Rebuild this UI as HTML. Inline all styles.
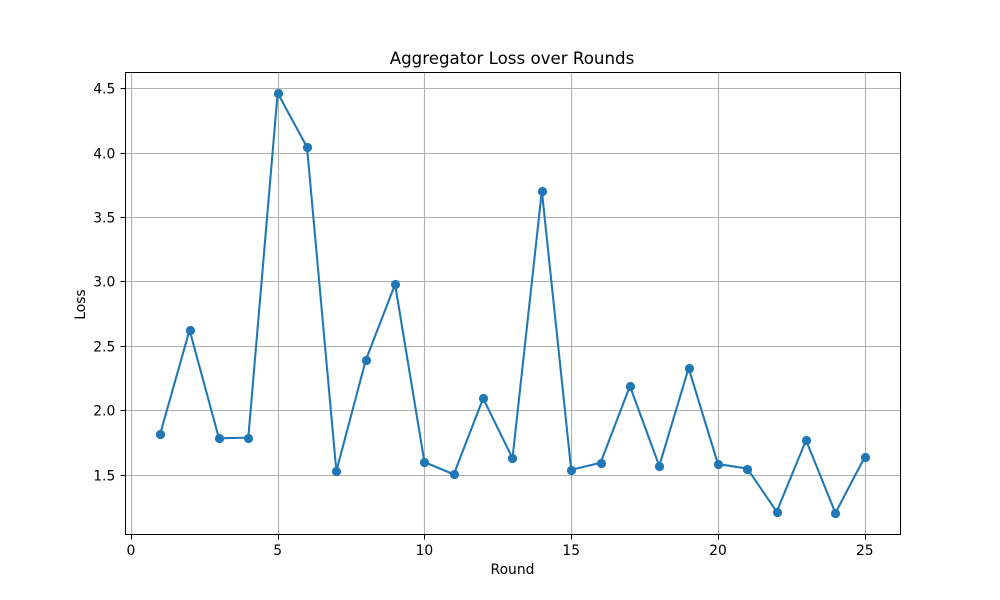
<!DOCTYPE html>
<html lang="en">
<head>
<meta charset="utf-8">
<title>Aggregator Loss over Rounds</title>
<style>
html,body{margin:0;padding:0;background:#fff;}
svg{display:block;font-family:"DejaVu Sans",sans-serif;}
text{fill:#000;}
</style>
</head>
<body>
<svg id="chart" width="1000" height="600" viewBox="0 0 1000 600" xmlns="http://www.w3.org/2000/svg">
<rect x="0" y="0" width="1000" height="600" fill="#ffffff"/>
<g id="grid"></g>
<g id="ticks"></g>
<g id="series"></g>
<rect x="125.5" y="72.5" width="775" height="462" fill="none" stroke="#000" stroke-width="1"/>
<text x="512" y="64" font-size="16.67" text-anchor="middle">Aggregator Loss over Rounds</text>
<text x="512.5" y="574" font-size="13.89" text-anchor="middle">Round</text>
<text x="85" y="304.5" font-size="13.89" text-anchor="middle" transform="rotate(-90 85 304.5)">Loss</text>
</svg>
<script>
const rounds = [1,2,3,4,5,6,7,8,9,10,11,12,13,14,15,16,17,18,19,20,21,22,23,24,25];
const lossValues = [1.82,2.625,1.785,1.79,4.465,4.045,1.53,2.39,2.98,1.6,1.505,2.095,1.63,3.705,1.54,1.595,2.19,1.57,2.33,1.585,1.55,1.215,1.77,1.205,1.64];
const xTickValues = [0,5,10,15,20,25];
const yTickValues = [1.5,2.0,2.5,3.0,3.5,4.0,4.5];
const yTickLabels = ["1.5","2.0","2.5","3.0","3.5","4.0","4.5"];

const NS = "http://www.w3.org/2000/svg";
const plot = {left:125.5, right:900.5, top:72.5, bottom:534.5};
function xScale(v){ return 130.87 + v * 29.356; }
function yScale(v){ return 475 - (v - 1.5) * 128.83; }
function snapX(p){ return Math.floor(p + 0.49) + 0.5; }
function snapY(p){ return Math.floor(p + 0.2) + 0.5; }
function snapMarker(p){ return Math.floor(p + 0.5) + 0.5; }
function make(tag, attrs, parent){
  const el = document.createElementNS(NS, tag);
  for (const k in attrs) el.setAttribute(k, attrs[k]);
  parent.appendChild(el);
  return el;
}
const gridG = document.getElementById("grid");
const ticksG = document.getElementById("ticks");
const seriesG = document.getElementById("series");

xTickValues.forEach(function(v){
  const x = snapX(xScale(v));
  const g = make("line",{x1:x,x2:x,y1:plot.top,y2:plot.bottom,stroke:"#b0b0b0","stroke-width":1.11},gridG);
  
  
  const t = make("line",{x1:x,x2:x,y1:plot.bottom,y2:plot.bottom+5,stroke:"#000","stroke-width":1},ticksG);
  
  
  const l = make("text",{x:xScale(v),y:555,"font-size":13.89,"text-anchor":"middle"},ticksG);
  l.textContent = String(v);
  
  
});

yTickValues.forEach(function(v,i){
  const y = snapY(yScale(v));
  const g = make("line",{x1:plot.left,x2:plot.right,y1:y,y2:y,stroke:"#b0b0b0","stroke-width":1.11},gridG);
  
  
  const t = make("line",{x1:plot.left-5,x2:plot.left,y1:y,y2:y,stroke:"#000","stroke-width":1},ticksG);
  
  
  const l = make("text",{x:115.3,y:y+5,"font-size":13.89,"text-anchor":"end"},ticksG);
  l.textContent = yTickLabels[i];
  
  
});

const pts = rounds.map(function(r,i){ return xScale(r).toFixed(2) + "," + yScale(lossValues[i]).toFixed(2); }).join(" ");
const line = make("polyline",{points:pts,fill:"none",stroke:"#1f77b4","stroke-width":2.08,"stroke-linejoin":"round"},seriesG);


rounds.forEach(function(r,i){
  const c = make("circle",{cx:snapMarker(xScale(r)),cy:snapMarker(yScale(lossValues[i])),r:4.6,fill:"#1f77b4"},seriesG);
  
  
});
</script>
</body>
</html>
